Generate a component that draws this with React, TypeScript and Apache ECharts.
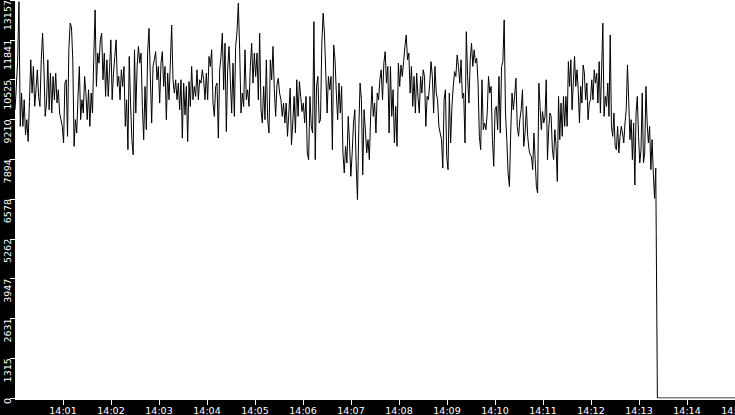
import React, { useEffect, useRef } from 'react';
import * as echarts from 'echarts';

// seconds after 14:00:00 where each block of readings starts / ends
const blockBounds = [0, 162.5, 322.5, 482.5, 642.5, 802.5];

const load1 = [
  9530, 10300, 11120, 13100, 8980, 10080, 8980, 9860, 8700, 9200,
  8480, 9800, 11180, 10080, 10960, 9640, 10190, 10850, 9970, 9640,
  11180, 12060, 10960, 9310, 9750, 11180, 9530, 10740, 9420, 10630,
  9860, 10740, 9750, 10190, 9420, 9200, 8980, 8430, 10410, 10520,
  8650, 11510, 12390, 12280, 11180, 8320, 9200, 8760, 9970, 10960,
  9200, 9860, 9420, 10630, 10080, 9200, 10190, 8980, 10080, 9420,
  11290, 12830, 10300, 11400, 11070, 11840, 12060, 10520, 11400, 9970,
  11180, 9970, 10850, 11840, 9860, 10740, 11290, 11840, 10300, 10630,
  9860, 10850, 10300, 10960, 8980, 9860, 8210, 11290, 9750, 8540,
  8040, 11510, 9420, 10960, 11620, 11070, 11400, 9640, 8540,
];

const load2 = [
  10300, 8870, 11450, 12220, 10630, 9090, 10960, 11180, 11450, 10520,
  10960, 9750, 11070, 11450, 10300, 10960, 9200, 10740, 9860, 11070,
  12330, 10520, 10080, 10520, 9860, 10410, 9530, 10520, 8590, 10410,
  9360, 10300, 8480, 10460, 9640, 10960, 9860, 10300, 9970, 10850,
  9860, 10520, 10410, 10850, 10520, 9860, 10740, 9860, 11290, 10960,
  11510, 9750, 9310, 10300, 10410, 8590, 10850, 11290, 12060, 10190,
  11730, 8810, 10850, 11620, 10520, 9420, 11070, 9310, 11620, 12110,
  13050, 11510, 9420, 10080, 9640, 11510, 9860, 10190, 9640, 10960,
  11730, 10410, 11400, 10630, 11400, 9860, 12060, 9530, 9090, 10300,
  9200, 11180, 9200, 8760, 11180, 10520,
];

const load3 = [
  11620, 10190, 9310, 10350, 10570, 10080, 9860, 9310, 9750, 9090,
  9750, 8650, 9420, 10240, 8370, 9090, 9970, 8760, 10520, 9310,
  10460, 9970, 9470, 9750, 9090, 9970, 8100, 7880, 9970, 8980,
  8760, 12440, 7880, 10300, 10630, 9090, 9200, 11730, 12720, 12060,
  10740, 9420, 10630, 10190, 10630, 8210, 11670, 11180, 10080, 9200,
  10410, 9420, 10300, 8100, 7440, 8320, 7770, 9310, 8430, 7330,
  8100, 9090, 9530, 7770, 6560, 8870, 10410, 9860, 7380, 9530,
  8870, 8100, 8540, 7880, 9310, 10300, 9310, 9750, 8760, 10080,
  9860, 10520, 10850, 9860, 11070, 11450, 10410, 10960, 8760, 10960,
  9310, 10190, 8430, 9640, 8320, 11070, 10300,
];

const load4 = [
  11010, 10630, 11120, 11620, 12000, 11180, 11400, 10080, 10960, 9640,
  10630, 9420, 10740, 9970, 9420, 10630, 10080, 10850, 10630, 8980,
  9970, 9860, 10410, 11120, 10630, 9420, 10960, 10080, 9860, 8980,
  8760, 8540, 7600, 9860, 10190, 7990, 7550, 10080, 8430, 9640,
  10300, 10790, 10630, 11340, 10960, 10410, 11180, 9910, 10080, 8430,
  12110, 10630, 9750, 11180, 11730, 10960, 11510, 11070, 11230, 10410,
  8650, 8210, 10520, 8870, 9090, 8870, 9420, 10630, 10080, 10300,
  8540, 7660, 9530, 9640, 8870, 10630, 8760, 10960, 11120, 12500,
  9420, 8540, 7440, 6990, 8760, 10080, 9530, 9970, 10570, 8980,
  8650, 9200, 9530, 10190, 8320, 8760, 9640, 8650,
];

const load5 = [
  8210, 8040, 7990, 7550, 8760, 7880, 6990, 6780, 10410, 9640,
  8870, 9470, 9090, 9310, 10520, 7880, 8870, 9420, 9310, 8210,
  7880, 8870, 8320, 7160, 9970, 8540, 9750, 8650, 9970, 8980,
  9970, 8980, 11120, 10300, 11180, 9530, 10410, 11290, 10300, 10850,
  10190, 9090, 10300, 9750, 11010, 10740, 9860, 10410, 9200, 9750,
  9860, 10520, 9860, 10850, 10410, 10740, 9750, 11120, 9420, 10850,
  12390, 9310, 9970, 9640, 10410, 9310, 12000, 8980, 8650, 9420,
  8320, 8210, 8980, 8100, 8650, 8980, 8760, 8430, 9090, 9530,
  11010, 9860, 8540, 9200, 7880, 9090, 7040, 9420, 9970, 8650,
  7770, 8210, 10080, 7770, 8100, 10300, 9090, 8430, 8980, 7550,
  8540, 7440, 6600, 7600,
];

// after the feed stops
const tailTimes = [803, 900];
const tailValues = [0, 0];

const timeLabels = [
  '14:00', '14:01', '14:02', '14:03', '14:04', '14:05', '14:06', '14:07',
  '14:08', '14:09', '14:10', '14:11', '14:12', '14:13', '14:14', '14:15',
];
const yTickLabels = ['0', '1315', '2631', '3947', '5262', '6578', '7894', '9210', '10525', '11841', '13157'];
const Y_MAX = 13157;
const Y_STEP = 1315.7;

function buildPoints() {
  const blocks = [load1, load2, load3, load4, load5];
  const pts: [number, number][] = [];
  blocks.forEach((vals, i) => {
    const t0 = blockBounds[i];
    const t1 = blockBounds[i + 1];
    vals.forEach((v, j) => pts.push([t0 + ((t1 - t0) * j) / vals.length, v]));
  });
  tailTimes.forEach((t, i) => pts.push([t, tailValues[i]]));
  return pts;
}

const FONT = 'DejaVu Sans';

export default function App() {
  const chartRef = useRef<HTMLDivElement>(null);

  useEffect(() => {
    const chart = echarts.init(chartRef.current!, undefined, { renderer: 'svg' });

    chart.setOption({
      animation: false,
      backgroundColor: '#000',
      grid: {
        left: 15,
        right: 0,
        top: 0,
        bottom: 17,
        show: true,
        backgroundColor: '#fff',
        borderWidth: 0,
        containLabel: false,
        outerBoundsMode: 'none',
      },
      xAxis: {
        type: 'value',
        min: 0,
        max: 900,
        interval: 60,
        axisLine: { show: false },
        axisTick: { show: true, length: 7, lineStyle: { color: '#fff', width: 1 } },
        splitLine: { show: false },
        axisLabel: {
          color: '#fff',
          fontFamily: FONT,
          fontSize: 9.5,
          margin: 7,
          showMinLabel: false,
          hideOverlap: false,
          formatter: (v: number) => timeLabels[Math.round(v / 60)] ?? '',
        },
      },
      yAxis: {
        type: 'value',
        min: 0,
        max: Y_MAX,
        interval: Y_STEP,
        axisLine: { show: false },
        axisTick: { show: true, length: 5, lineStyle: { color: '#fff', width: 1 } },
        splitLine: { show: false },
        axisLabel: {
          color: '#fff',
          fontFamily: FONT,
          fontSize: 9.5,
          rotate: 90,
          align: 'right',
          verticalAlign: 'bottom',
          margin: 3,
          formatter: (v: number) => yTickLabels[Math.round(v / Y_STEP)] ?? '',
        },
      },
      graphic: [
        {
          type: 'rect',
          shape: { x: 15, y: 398, width: 720, height: 2 },
          style: { fill: '#fff' },
          silent: true,
          z: 0,
        },
      ],
      series: [
        {
          type: 'line',
          data: buildPoints(),
          showSymbol: false,
          symbol: 'none',
          silent: true,
          lineStyle: { color: '#000', width: 1 },
          z: 3,
        },
      ],
    });

    return () => {
      chart.dispose();
    };
  }, []);

  return (
    <div
      ref={chartRef}
      style={{ position: 'fixed', left: 0, top: 0, width: '735px', height: '415px' }}
    ></div>
  );
}
